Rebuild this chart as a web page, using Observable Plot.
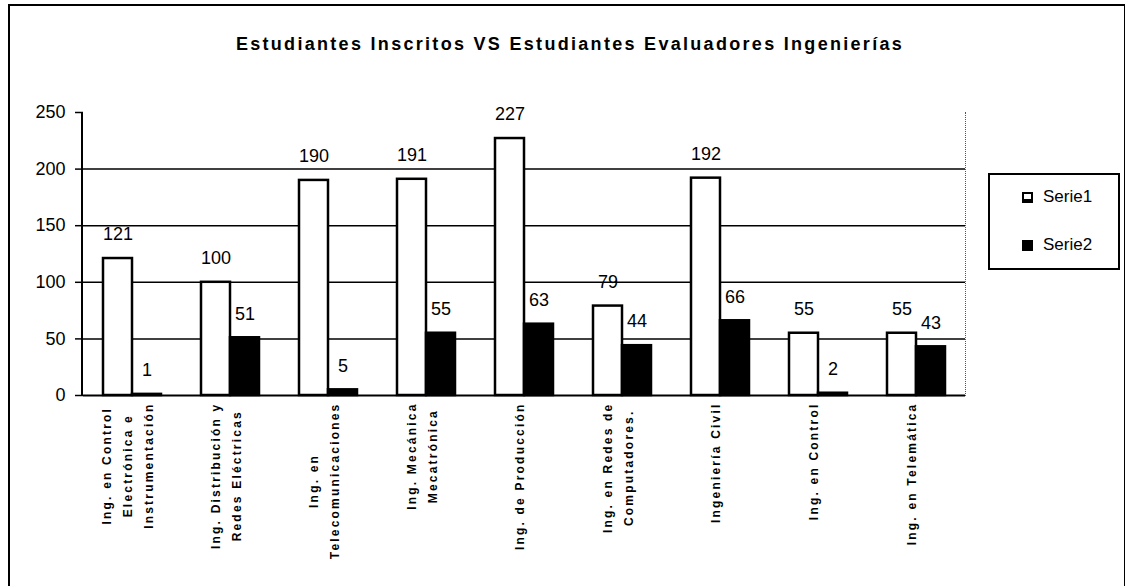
<!DOCTYPE html>
<html>
<head>
<meta charset="utf-8">
<script src="https://cdn.jsdelivr.net/npm/d3@7"></script>
<script src="https://cdn.jsdelivr.net/npm/@observablehq/plot@0.6"></script>
<style>
  body { margin: 0; background: white; font-family: "Liberation Sans", Arial, sans-serif; }
  #wrap { position: relative; width: 1128px; height: 586px; overflow: hidden; background: white; }
  #wrap svg { position: absolute; left: 0; top: 0; }
  .ov { position: absolute; box-sizing: border-box; }
  text[aria-label="cat-labels"] { letter-spacing: 2.2px; }
</style>
</head>
<body>
<div id="wrap">
  <div class="ov" style="left:8px; top:4px; width:1117px; height:600px; border-left:2px solid #000; border-top:2px solid #000; border-right:1px solid #000;"></div>
  <div class="ov" id="title" style="left:0; top:34px; width:1140px; text-align:center; font-weight:bold; font-size:18px; letter-spacing:2.3px;">Estudiantes Inscritos VS Estudiantes Evaluadores Ingenierías</div>
  <div class="ov" style="left:82px; top:112px; width:884px; height:284px; border-right:1px dotted #555;"></div>
  <div class="ov" id="legend" style="left:988px; top:173px; width:132px; height:97px; border:2px solid #000; font-size:17px;"></div>
</div>
<script>
const categories = [
  "Ing. en Control\nElectrónica e\nInstrumentación",
  "Ing. Distribución y\nRedes Eléctricas",
  "Ing. en\nTelecomunicaciones",
  "Ing. Mecánica\nMecatrónica",
  "Ing. de Producción",
  "Ing. en Redes de\nComputadores.",
  "Ingeniería Civil",
  "Ing. en Control",
  "Ing. en Telemática"
];
const series = ["Serie1", "Serie2"];
const serie1 = [121, 100, 190, 191, 227, 79, 192, 55, 55];
const serie2 = [1, 51, 5, 55, 63, 44, 66, 2, 43];
const yTicks = [0, 50, 100, 150, 200, 250];
const gridValues = [50, 100, 150, 200];

const data = [];
categories.forEach((c, i) => {
  data.push({cat: c, serie: series[0], value: serie1[i]});
  data.push({cat: c, serie: series[1], value: serie2[i]});
});

const font = '"Liberation Sans", Arial, sans-serif';

const chart = Plot.plot({
  width: 1128,
  height: 586,
  marginLeft: 82,
  marginRight: 162,
  marginTop: 112,
  marginBottom: 191,
  style: {fontFamily: font, background: "transparent", overflow: "visible"},
  fx: {domain: categories, padding: 0, axis: null},
  x: {domain: series, paddingInner: 0, paddingOuter: 0.64, axis: null},
  y: {domain: [0, 250], axis: null},
  color: {domain: series, range: ["white", "black"]},
  marks: [
    Plot.ruleY(gridValues, {stroke: "black", strokeWidth: 1.5}),
    Plot.axisY({ticks: yTicks, tickSize: 8, tickPadding: 10, fontSize: 18, stroke: "black", fill: "black", strokeWidth: 1.5, label: null}),
    Plot.barY(data, {fx: "cat", x: "serie", y: "value", fill: "serie", stroke: "black", strokeWidth: 2.5}),
    Plot.ruleY([0], {stroke: "black", strokeWidth: 2}),
    Plot.text(data, {fx: "cat", x: "serie", y: "value", text: d => String(d.value), dy: -24, fontSize: 18, fill: "black"}),
    Plot.text(categories, {fx: d => d, text: d => d, frameAnchor: "bottom", rotate: -90, textAnchor: "middle", lineAnchor: "middle", lineHeight: 1.75, fontSize: 12, fontWeight: "bold", fill: "black", dx: -7, ariaLabel: () => "cat-labels"})
  ]
});

const wrap = document.getElementById("wrap");
wrap.insertBefore(chart, wrap.children[1]);

// left axis line
const axisLine = document.createElement("div");
axisLine.className = "ov";
axisLine.style.cssText = "left:81px; top:112px; width:2px; height:284px; background:#000;";
wrap.appendChild(axisLine);

// shift category labels so the longest line of each block starts just below the axis
d3.select(chart).selectAll('text[aria-label="cat-labels"]').each(function() {
  const w = this.getBBox().width;
  const t = this.getAttribute("transform") || "";
  this.setAttribute("transform", `translate(0,${7 + w / 2}) ` + t);
});

// legend
const legend = document.getElementById("legend");
series.forEach((s, i) => {
  const row = document.createElement("div");
  row.style.cssText = `position:absolute; left:32px; top:${10 + i * 48}px; height:24px; display:flex; align-items:center;`;
  const sw = document.createElement("span");
  sw.style.cssText = `display:inline-block; width:11px; height:11px; box-sizing:border-box; border:2px solid #000; background:${i === 0 ? "white" : "black"}; margin-right:10px;` + (i === 0 ? "border-bottom-width:4px;" : "");
  const tx = document.createElement("span");
  tx.textContent = s;
  row.appendChild(sw);
  row.appendChild(tx);
  legend.appendChild(row);
});
</script>
</body>
</html>
